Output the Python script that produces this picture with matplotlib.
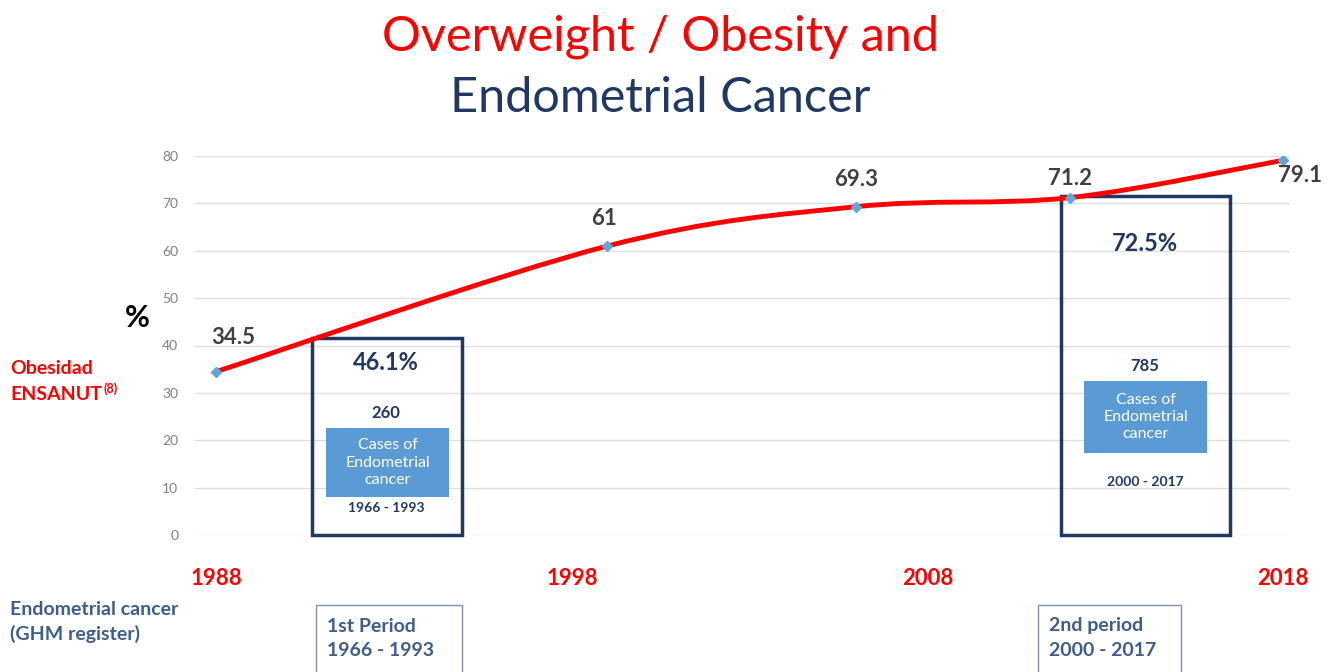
import matplotlib
matplotlib.use("Agg")
import matplotlib.pyplot as plt
from matplotlib.path import Path
from matplotlib.patches import PathPatch, Rectangle
import numpy as np

plt.rcParams['font.family'] = ['Lato', 'DejaVu Sans']

# datos ENSANUT
anios = [1988, 1999, 2006, 2012, 2018]
obesidad = [34.5, 61, 69.3, 71.2, 79.1]
etiquetas = ["34.5", "61", "69.3", "71.2", "79.1"]
anios_eje = [1988, 1998, 2008, 2018]

# periodos de cáncer endometrial
periodos = ["1966 - 1993", "2000 - 2017"]
porcentajes = ["46.1%", "72.5%"]
casos = ["260", "785"]
titulos_periodo = ["1st Period", "2nd period"]

W, H = 1329, 672
fig = plt.figure(figsize=(W / 100, H / 100), dpi=100)
ax = fig.add_axes([195 / W, 1 - 535 / H, (1290 - 195) / W, (535 - 156) / H])

ROJO = "#ff0000"
AZUL_OSC = "#1f3864"
GRIS = "#404040"
AZUL_TXT = "#3e5d8f"
AZUL_CAJA = "#5b9bd5"

ax.set_xlim(1987.4, 2018.2)
ax.set_ylim(0, 80)
ax.set_yticks(range(0, 81, 10))
ax.grid(axis='y', color="#e0e0e0", lw=1)
ax.set_axisbelow(True)
for s in ax.spines.values():
    s.set_visible(False)
ax.tick_params(axis='y', length=0, labelsize=10, labelcolor="#808080", pad=12)
ax.set_xticks(anios_eje)
ax.set_xticklabels([str(a) for a in anios_eje])
ax.tick_params(axis='x', length=0, labelsize=16, labelcolor=ROJO, pad=24)
for t in ax.get_xticklabels():
    t.set_fontweight('bold')

# curva suavizada (Bezier tipo Catmull-Rom)
x = np.array(anios, dtype=float)
y = np.array(obesidad, dtype=float)
px = np.concatenate([[x[0]], x, [x[-1]]])
py = np.concatenate([[y[0]], y, [y[-1]]])
verts = [(x[0], y[0])]
codes = [Path.MOVETO]
for i in range(len(x) - 1):
    p0 = np.array([px[i], py[i]])
    p1 = np.array([px[i + 1], py[i + 1]])
    p2 = np.array([px[i + 2], py[i + 2]])
    p3 = np.array([px[i + 3], py[i + 3]])
    c1 = p1 + (p2 - p0) / 6
    c2 = p2 - (p3 - p1) / 6
    verts += [tuple(c1), tuple(c2), tuple(p2)]
    codes += [Path.CURVE4] * 3
ax.add_patch(PathPatch(Path(verts, codes), fill=False, edgecolor=ROJO, lw=3.5, zorder=3))
ax.plot(anios, obesidad, linestyle='none', marker='D', ms=5, color="#5fa7d9", zorder=4)

desplaz = [(17, 34), (-3, 28), (0, 27), (0, 19), (17, -15)]
for xi, yi, lab, d in zip(anios, obesidad, etiquetas, desplaz):
    ax.annotate(lab, (xi, yi), xytext=d, textcoords='offset pixels',
                ha='center', va='center', fontsize=16, fontweight='bold', color=GRIS, zorder=5)

# cajas de periodos
cajas = [(1990.7, 1994.9, 41.6), (2011.76, 2016.5, 71.5)]
centros = [1992.78, 2014.12]
y_pct = [36.5, 61.6]
y_casos = [25.7, 35.7]
rects_azul = [(1991.09, 1994.54, 8.0, 22.6), (2012.41, 2015.87, 17.3, 32.5)]
y_per = [5.7, 11.2]
for i in range(2):
    x0, x1, top = cajas[i]
    ax.add_patch(Rectangle((x0, 0), x1 - x0, top, fill=False, edgecolor=AZUL_OSC,
                           lw=2.5, zorder=2, clip_on=False))
    cx = centros[i]
    ax.text(cx, y_pct[i], porcentajes[i], ha='center', va='center', fontsize=17,
            fontweight='bold', color=AZUL_OSC, zorder=5)
    ax.text(cx, y_casos[i], casos[i], ha='center', va='center', fontsize=12,
            fontweight='bold', color=AZUL_OSC, zorder=5)
    rx0, rx1, ry0, ry1 = rects_azul[i]
    ax.add_patch(Rectangle((rx0, ry0), rx1 - rx0, ry1 - ry0, facecolor=AZUL_CAJA,
                           edgecolor='none', zorder=2))
    ax.text((rx0 + rx1) / 2, (ry0 + ry1) / 2, "Cases of\nEndometrial\ncancer",
            ha='center', va='center', fontsize=11.5, color='white', linespacing=1.3, zorder=5)
    ax.text(cx, y_per[i], periodos[i], ha='center', va='center', fontsize=10,
            fontweight='bold', color=AZUL_OSC, zorder=5)

# títulos
fig.text(660 / W, 1 - 37 / H, "Overweight / Obesity and", ha='center', va='center',
         fontsize=35, color=ROJO)
fig.text(660 / W, 1 - 98 / H, "Endometrial Cancer", ha='center', va='center',
         fontsize=35, color=AZUL_OSC)

fig.text(137 / W, 1 - 318 / H, "%", ha='center', va='center', fontsize=22,
         fontweight='bold', color='black')
fig.text(10 / W, 1 - 368 / H, "Obesidad", ha='left', va='center', fontsize=14,
         fontweight='bold', color=ROJO)
fig.text(10 / W, 1 - 395 / H, "ENSANUT", ha='left', va='center', fontsize=14,
         fontweight='bold', color=ROJO)
fig.text(104 / W, 1 - 389 / H, "(8)", ha='left', va='center', fontsize=9,
         fontweight='bold', color=ROJO)

fig.text(10 / W, 1 - 622 / H, "Endometrial cancer\n(GHM register)", ha='left', va='center',
         fontsize=14, fontweight='bold', color=AZUL_TXT, linespacing=1.5)

pos_per = [(316, 462), (1038, 1181)]
for (a, b), tit, per in zip(pos_per, titulos_periodo, periodos):
    fig.patches.append(Rectangle((a / W, 1 - 680 / H), (b - a) / W, 75 / H,
                                 transform=fig.transFigure, fill=False,
                                 edgecolor="#8090a8", lw=1))
    fig.text((a + 11) / W, 1 - 638 / H, tit + "\n" + per, ha='left', va='center',
             fontsize=14, fontweight='bold', color=AZUL_TXT, linespacing=1.5)

fig.savefig("out.png", dpi=100)
